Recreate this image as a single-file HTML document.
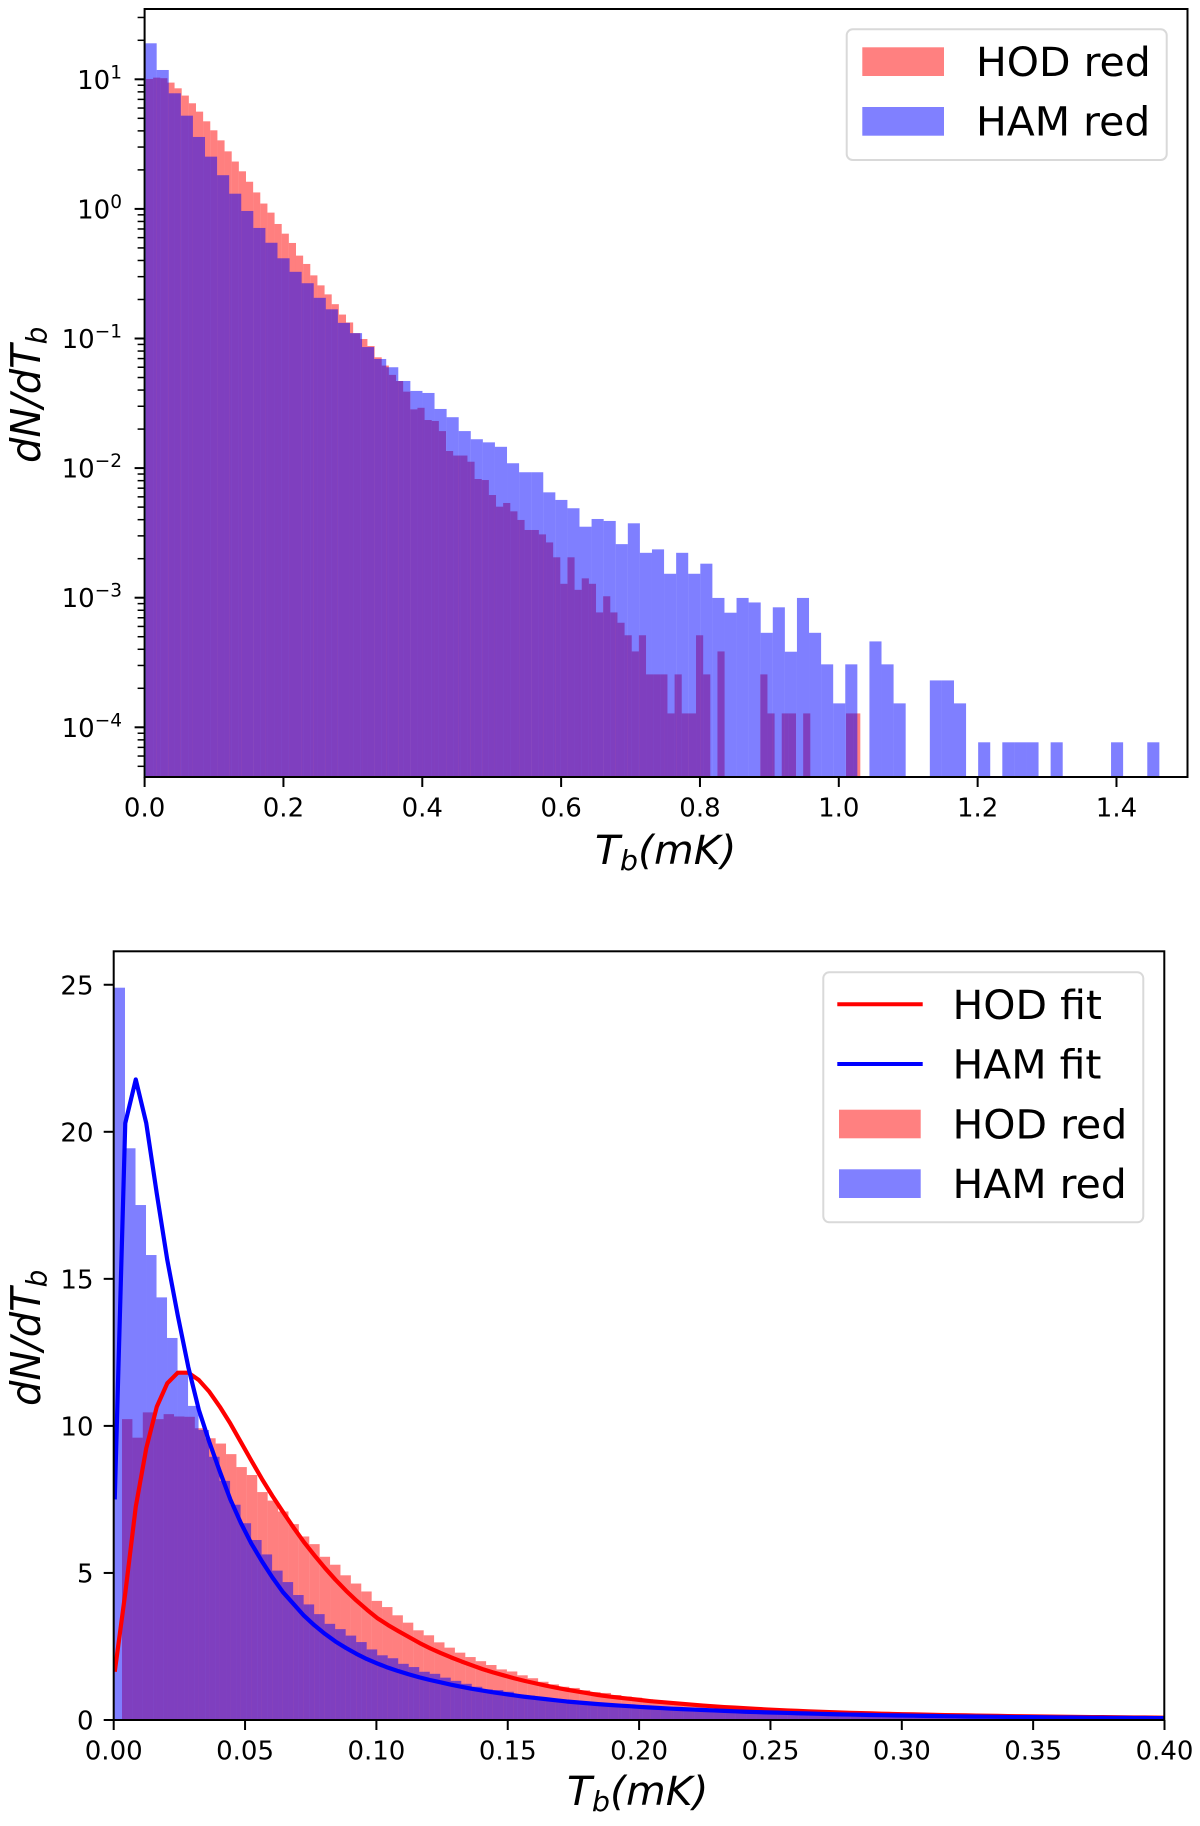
<!DOCTYPE html>
<html lang="en">
<head>
<meta charset="utf-8">
<title>Brightness temperature distributions</title>
<style>
html,body{margin:0;padding:0;background:#fff;}
svg{display:block;}
text{font-family:"DejaVu Sans","Liberation Sans",sans-serif;fill:#000;}
</style>
</head>
<body>
<svg id="fig" xmlns="http://www.w3.org/2000/svg" width="1200" height="1826" viewBox="0 0 1200 1826">
  <defs>
    <clipPath id="clip-top"><rect x="144.6" y="9" width="1042.9" height="768"/></clipPath>
    <clipPath id="clip-bottom"><rect x="113.7" y="951.3" width="1050.6" height="768.7"/></clipPath>
  </defs>
  <rect x="0" y="0" width="1200" height="1826" fill="#fff"/>
  <g id="top-bars" clip-path="url(#clip-top)"></g>
  <g id="top-axes"></g>
  <g id="bottom-bars" clip-path="url(#clip-bottom)"></g>
  <g id="bottom-lines" clip-path="url(#clip-bottom)"></g>
  <g id="bottom-axes"></g>

  <text transform="translate(595,864) scale(1.02,1)" font-size="40" font-style="italic">T<tspan font-size="28" dy="6">b</tspan><tspan dy="-6">(mK)</tspan></text>
  <text transform="translate(40,463) scale(1.02,1) rotate(-90)" font-size="40" font-style="italic">dN/dT<tspan font-size="28" dy="6.5">b</tspan></text>
  <text transform="translate(567,1805) scale(1.02,1)" font-size="40" font-style="italic">T<tspan font-size="28" dy="6">b</tspan><tspan dy="-6">(mK)</tspan></text>
  <text transform="translate(40,1406) scale(1.02,1) rotate(-90)" font-size="40" font-style="italic">dN/dT<tspan font-size="28" dy="6.5">b</tspan></text>

  <g>
    <rect x="846.7" y="29.3" width="320" height="130.7" rx="6" fill="#fff" fill-opacity="0.8" stroke="#d9d9d9" stroke-width="2"/>
    <rect x="862.3" y="47.3" width="81.7" height="28.7" fill="#ff8080"/>
    <text transform="translate(976,76) scale(1.024,1)" font-size="40">HOD red</text>
    <rect x="862.3" y="107" width="81.7" height="28.7" fill="#8080ff"/>
    <text transform="translate(976,135.7) scale(1.024,1)" font-size="40">HAM red</text>
  </g>
  <g>
    <rect x="823.3" y="972.3" width="320" height="250" rx="6" fill="#fff" fill-opacity="0.8" stroke="#d9d9d9" stroke-width="2"/>
    <line x1="837.3" y1="1004.3" x2="922.7" y2="1004.3" stroke="#ff0000" stroke-width="4"/>
    <text transform="translate(952.5,1019) scale(1.024,1)" font-size="40">HOD fit</text>
    <line x1="837.3" y1="1064" x2="922.7" y2="1064" stroke="#0000ff" stroke-width="4"/>
    <text transform="translate(952.5,1078.7) scale(1.024,1)" font-size="40">HAM fit</text>
    <rect x="839" y="1109.7" width="81.7" height="28.6" fill="#ff8080"/>
    <text transform="translate(952.5,1138.3) scale(1.024,1)" font-size="40">HOD red</text>
    <rect x="839" y="1169.3" width="81.7" height="28.7" fill="#8080ff"/>
    <text transform="translate(952.5,1198) scale(1.024,1)" font-size="40">HAM red</text>
  </g>
</svg>
<script>
// ---- Top chart data (log y) ----
const topHodValues = [10.06,10.3,10.2,9.43,8.52,7.49,6.53,5.63,4.74,4.04,3.38,2.78,2.32,1.95,1.62,1.34,1.10,0.936,0.765,0.644,0.546,0.436,0.376,0.307,0.257,0.219,0.184,0.153,0.133,0.110,0.0991,0.0875,0.0716,0.0618,0.0524,0.047,0.0389,0.0284,0.0292,0.0235,0.0231,0.0193,0.01355,0.0125,0.0125,0.0112,0.00824,0.00809,0.0062,0.00504,0.00538,0.00464,0.00398,0.00333,0.00333,0.00308,0.00267,0.00205,0.00128,0.00205,0.00115,0.00141,0.00128,0.00077,0.001026,0.00077,0.000641,0.000513,0.000385,0.000513,0.000256,0.000256,0.000256,0.000128,0.000256,0.000128,0.000128,0.000513,0.000256,0,0.000385,0,0,0,0,0,0.000256,0.000128,0,0.000128,0.000128,0,0.000128,0,0,0,0,0,0.000128,0.000128];
const topHamValues = [18.96,11.8,7.8,5.24,3.59,2.53,1.82,1.31,0.964,0.713,0.548,0.416,0.327,0.267,0.206,0.168,0.132,0.110,0.0859,0.0695,0.060,0.047,0.0394,0.038,0.0286,0.0247,0.0193,0.0167,0.0158,0.0146,0.0109,0.00929,0.00929,0.0065,0.00568,0.0049,0.00353,0.00405,0.00391,0.00259,0.00375,0.00222,0.00236,0.00153,0.00222,0.00153,0.00183,0.000996,0.000766,0.000996,0.000919,0.000536,0.000843,0.000383,0.000996,0.000536,0.000306,0.000153,0.000306,0,0.00046,0.000306,0.000153,0,0,0.00023,0.00023,0.000153,0,0.0000766,0,0.0000766,0.0000766,0.0000766,0,0.0000766,0,0,0,0,0.0000766,0,0,0.0000766];
const topXTickLabels = ["0.0","0.2","0.4","0.6","0.8","1.0","1.2","1.4"];
const topYTickExponents = [1,0,-1,-2,-3,-4];

// ---- Bottom chart data (linear y) ----
const bottomHodValues = [10.23,9.6,10.46,10.23,10.4,10.32,10.31,9.92,9.58,9.40,9.04,8.6,8.33,7.75,7.46,7.09,6.66,6.24,5.98,5.55,5.28,4.92,4.64,4.37,4.05,3.84,3.56,3.31,3.05,2.88,2.64,2.46,2.29,2.14,2.0,1.87,1.72,1.65,1.52,1.42,1.30,1.21,1.13,1.09,1.01,0.95,0.92,0.85,0.80,0.76,0.71,0.67,0.64,0.60,0.56,0.53,0.50,0.47,0.44,0.41,0.39,0.37,0.35,0.33,0.31,0.29,0.28,0.26,0.25,0.24,0.22,0.21,0.20,0.19,0.18,0.17,0.165,0.155,0.15,0.14,0.135,0.13,0.12,0.115,0.11,0.105,0.10,0.095,0.09,0.087,0.083,0.08,0.077,0.074,0.07,0.068,0.065,0.063,0.06,0.058];
const bottomHamValues = [24.9,19.44,17.51,15.81,14.37,12.99,11.79,10.68,9.86,8.95,8.13,7.32,6.69,6.12,5.63,5.08,4.69,4.25,3.93,3.60,3.27,3.09,2.87,2.65,2.40,2.20,2.10,1.91,1.80,1.64,1.57,1.44,1.33,1.23,1.13,1.04,1.02,0.96,0.87,0.83,0.77,0.72,0.67,0.63,0.59,0.55,0.52,0.49,0.46,0.44,0.42,0.40,0.38,0.36,0.34,0.32,0.31,0.29,0.27,0.26,0.25,0.24,0.23,0.22,0.21,0.20,0.19,0.18,0.17,0.165,0.155,0.15,0.14,0.135,0.13,0.125,0.12,0.11,0.105,0.10,0.098,0.095,0.09,0.086,0.083,0.08,0.076,0.073,0.07,0.068,0.065,0.063,0.06,0.058,0.056,0.054,0.052,0.05,0.048,0.046];
const hodFitValues = [1.64,4.31,7.25,9.24,10.65,11.45,11.81,11.81,11.56,11.16,10.65,10.08,9.45,8.82,8.2,7.62,7.08,6.55,6.05,5.6,5.17,4.77,4.4,4.06,3.75,3.46,3.23,3.02,2.82,2.62,2.44,2.28,2.13,1.99,1.86,1.73,1.62,1.52,1.42,1.33,1.25,1.17,1.10,1.03,0.97,0.91,0.85,0.80,0.76,0.72,0.68,0.64,0.61,0.58,0.55,0.52,0.49,0.465,0.44,0.42,0.40,0.38,0.36,0.34,0.325,0.31,0.295,0.28,0.27,0.255,0.245,0.235,0.225,0.215,0.205,0.197,0.19,0.182,0.175,0.168,0.162,0.156,0.15,0.144,0.139,0.134,0.129,0.124,0.12,0.116,0.112,0.108,0.104,0.10,0.097,0.094,0.09,0.087,0.084,0.082,0.079];
const hamFitValues = [7.5,20.29,21.78,20.29,17.9,15.64,13.75,12.0,10.55,9.45,8.45,7.5,6.7,6.0,5.4,4.85,4.35,3.95,3.55,3.22,2.93,2.67,2.45,2.25,2.07,1.92,1.78,1.66,1.55,1.45,1.36,1.28,1.20,1.13,1.06,1.00,0.94,0.89,0.84,0.79,0.75,0.71,0.67,0.63,0.60,0.57,0.54,0.515,0.49,0.47,0.445,0.425,0.405,0.385,0.37,0.355,0.34,0.325,0.31,0.295,0.28,0.27,0.26,0.25,0.24,0.23,0.22,0.21,0.20,0.192,0.185,0.178,0.171,0.164,0.158,0.152,0.146,0.14,0.135,0.13,0.125,0.12,0.116,0.112,0.108,0.104,0.10,0.097,0.094,0.09,0.087,0.084,0.081,0.079,0.076,0.074,0.071,0.069,0.067,0.065,0.063];
const bottomXTickLabels = ["0.00","0.05","0.10","0.15","0.20","0.25","0.30","0.35","0.40"];
const bottomYTickLabels = ["0","5","10","15","20","25"];

// ---- Axis functions ----
const topBox = {l:144.6, r:1187.5, t:9, b:777};
const botBox = {l:113.7, r:1164.3, t:951.3, b:1720};
function topX(v){ return 144.6 + v * 694.2; }
function topY(v){ return 79.3 - (Math.log10(v) - 1) * 129.6; }
function botX(v){ return 113.7 + v * 2627; }
function botY(v){ return 1720 - v * 29.41; }

const NS = 'http://www.w3.org/2000/svg';
function mk(tag, attrs, parent){
  const el = document.createElementNS(NS, tag);
  for (const k in attrs) el.setAttribute(k, attrs[k]);
  parent.appendChild(el);
  return el;
}
function tickLabel(parent, x, y, txt, anchor){
  const t = mk('text', {transform:'translate('+x+','+y+') scale(1,1)', 'font-size':26, 'text-anchor':anchor}, parent);
  t.textContent = txt;
  return t;
}

const topBars = document.getElementById('top-bars');
const topAxes = document.getElementById('top-axes');
const bottomBars = document.getElementById('bottom-bars');
const bottomLines = document.getElementById('bottom-lines');
const bottomAxes = document.getElementById('bottom-axes');

// ---- Top histograms ----
const topHodStart = 0.002, topHodWidth = 0.01029;
topHodValues.forEach(function(v, i){
  if (v <= 0) return;
  const x0 = topX(topHodStart + i * topHodWidth), x1 = topX(topHodStart + (i + 1) * topHodWidth), y = topY(v);
  const el = mk('rect', {x:x0, y:y, width:x1 - x0, height:topBox.b - y, fill:'#ff0000', 'fill-opacity':0.5}, topBars);
  
  
});
const topHamStart = 0, topHamWidth = 0.017402;
topHamValues.forEach(function(v, i){
  if (v <= 0) return;
  const x0 = topX(topHamStart + i * topHamWidth), x1 = topX(topHamStart + (i + 1) * topHamWidth), y = topY(v);
  const el = mk('rect', {x:x0, y:y, width:x1 - x0, height:topBox.b - y, fill:'#0000ff', 'fill-opacity':0.5}, topBars);
  
  
});

// ---- Top axes ----
topXTickLabels.forEach(function(lab){
  const x = topX(parseFloat(lab));
  const tk = mk('line', {x1:x, x2:x, y1:topBox.b, y2:topBox.b + 10, stroke:'#000', 'stroke-width':2}, topAxes);
  
  
  const t = tickLabel(topAxes, x, 816.7, lab, 'middle');
  
  
});
topYTickExponents.forEach(function(ex){
  const y = topY(Math.pow(10, ex));
  const tk = mk('line', {x1:topBox.l - 10, x2:topBox.l, y1:y, y2:y, stroke:'#000', 'stroke-width':2}, topAxes);
  
  
  const t = tickLabel(topAxes, 122, y + 9.5, '10', 'end');
  const s = mk('tspan', {'font-size':18.5, dy:-10.5}, t);
  s.textContent = (ex < 0 ? '\u2212' : '') + Math.abs(ex);
  
  
});
for (let ex = -5; ex <= 1; ex++) {
  for (let m = 2; m <= 9; m++) {
    const val = m * Math.pow(10, ex), y = topY(val);
    if (y < topBox.t || y > topBox.b) continue;
    const tk = mk('line', {x1:topBox.l - 7, x2:topBox.l, y1:y, y2:y, stroke:'#000', 'stroke-width':1.5}, topAxes);
    
    
  }
}
const topFrame = mk('rect', {x:topBox.l, y:topBox.t, width:topBox.r - topBox.l, height:topBox.b - topBox.t, fill:'none', stroke:'#000', 'stroke-width':2}, topAxes);



// ---- Bottom histograms ----
const botHodStart = 0.00316, botHodWidth = 0.00396;
bottomHodValues.forEach(function(v, i){
  const x0 = botX(botHodStart + i * botHodWidth), x1 = botX(botHodStart + (i + 1) * botHodWidth), y = botY(v);
  const el = mk('rect', {x:x0, y:y, width:x1 - x0, height:botBox.b - y, fill:'#ff0000', 'fill-opacity':0.5}, bottomBars);
  
  
});
const botHamStart = 0.0003, botHamWidth = 0.004;
bottomHamValues.forEach(function(v, i){
  const x0 = botX(botHamStart + i * botHamWidth), x1 = botX(botHamStart + (i + 1) * botHamWidth), y = botY(v);
  const el = mk('rect', {x:x0, y:y, width:x1 - x0, height:botBox.b - y, fill:'#0000ff', 'fill-opacity':0.5}, bottomBars);
  
  
});

// ---- Fit lines ----
const fitStep = 0.004, fitStart = 0.0004;
function fitPoints(vals){
  return vals.map(function(v, i){ return botX(fitStart + i * fitStep).toFixed(2) + ',' + botY(v).toFixed(2); }).join(' ');
}
const hodLine = mk('polyline', {points:fitPoints(hodFitValues), fill:'none', stroke:'#ff0000', 'stroke-width':4.2, 'stroke-linejoin':'round'}, bottomLines);


const hamLine = mk('polyline', {points:fitPoints(hamFitValues), fill:'none', stroke:'#0000ff', 'stroke-width':4.2, 'stroke-linejoin':'round'}, bottomLines);



// ---- Bottom axes ----
bottomXTickLabels.forEach(function(lab){
  const x = botX(parseFloat(lab));
  const tk = mk('line', {x1:x, x2:x, y1:botBox.b, y2:botBox.b + 10, stroke:'#000', 'stroke-width':2}, bottomAxes);
  
  
  const t = tickLabel(bottomAxes, x, 1759.3, lab, 'middle');
  
  
});
bottomYTickLabels.forEach(function(lab){
  const y = botY(parseFloat(lab));
  const tk = mk('line', {x1:botBox.l - 10, x2:botBox.l, y1:y, y2:y, stroke:'#000', 'stroke-width':2}, bottomAxes);
  
  
  const t = tickLabel(bottomAxes, 93.5, y + 9.5, lab, 'end');
  
  
});
const botFrame = mk('rect', {x:botBox.l, y:botBox.t, width:botBox.r - botBox.l, height:botBox.b - botBox.t, fill:'none', stroke:'#000', 'stroke-width':2}, bottomAxes);


</script>
</body>
</html>
